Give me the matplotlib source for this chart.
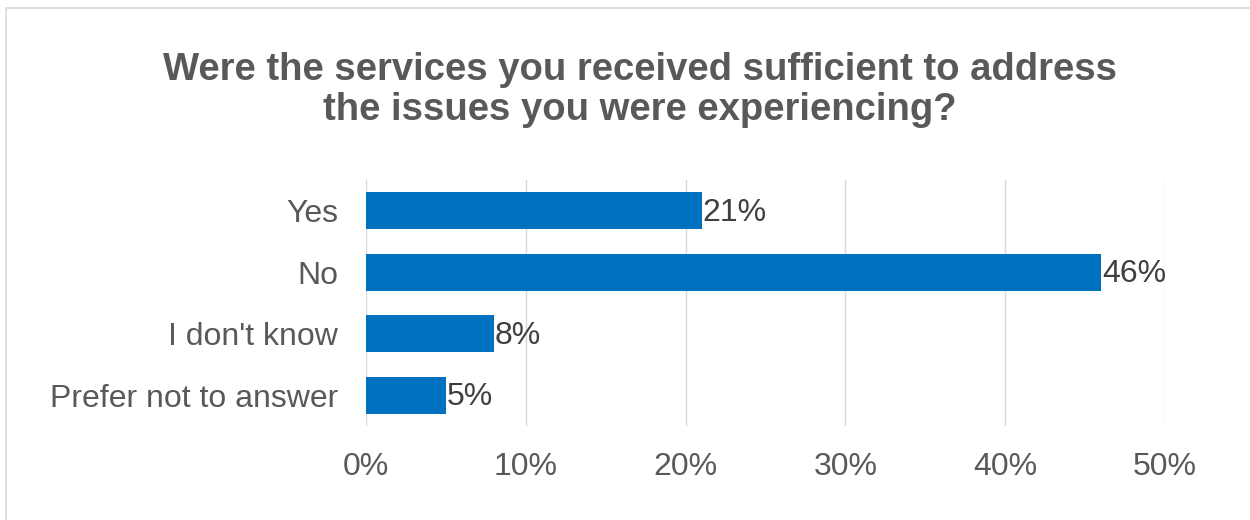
import matplotlib.pyplot as plt
from matplotlib.patches import Rectangle

plt.rcParams['font.family'] = ['Liberation Sans', 'DejaVu Sans']

answers = ["Yes", "No", "I don't know", "Prefer not to answer"]
shares = [21, 46, 8, 5]
ticks = [0, 10, 20, 30, 40, 50]

fig = plt.figure(figsize=(12.5, 5.2), dpi=100)
ax = fig.add_axes([0.2928, 0.1808, 0.6392, 0.473])

pos = list(range(len(answers)))
ax.barh(pos, shares, height=0.6, color="#0070C0", zorder=3)
for p, v in zip(pos, shares):
    ax.text(v + 0.05, p + 0.03, "%d%%" % v, va="center", ha="left",
            fontsize=23, color="#404040")

ax.set_ylim(len(answers) - 0.5, -0.5)
ax.set_yticks(pos)
ax.set_yticklabels(answers)
ax.set_xlim(0, 50)
ax.set_xticks(ticks)
ax.set_xticklabels(["%d%%" % t for t in ticks])
ax.tick_params(axis="both", length=0, labelsize=23, colors="#595959")
ax.tick_params(axis="y", pad=20)
ax.tick_params(axis="x", pad=19)
ax.xaxis.grid(True, color="#d9d9d9", lw=1, zorder=0)
for s in ax.spines.values():
    s.set_visible(False)

fig.text(0.512, 0.827, "Were the services you received sufficient to address\nthe issues you were experiencing?",
         ha="center", va="center", fontsize=27.5, fontweight="bold", color="#595959",
         linespacing=1.17)

# thin frame round the chart area
fig.patches.append(Rectangle((0.0048, -0.1), 1.2, 1.085, transform=fig.transFigure,
                             fill=False, ec="#d9d9d9", lw=1.2))

fig.savefig("out.png", dpi=100)
